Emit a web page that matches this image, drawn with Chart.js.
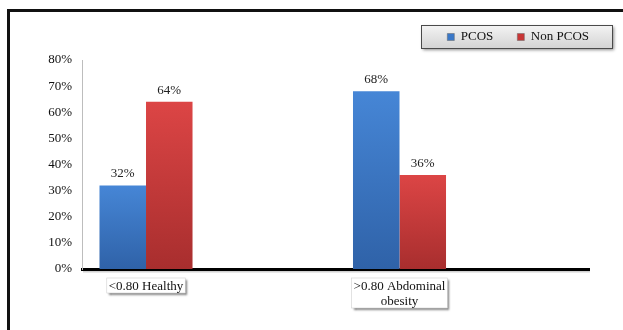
<!DOCTYPE html>
<html><head><meta charset="utf-8">
<script src="https://cdn.jsdelivr.net/npm/chart.js@4/dist/chart.umd.min.js"></script>
<style>html,body{margin:0;padding:0;background:#fff}#wrap{width:623px;height:330px;position:relative}</style>
</head><body><div id="wrap"><canvas id="c" width="623" height="330"></canvas></div>
<script>
const categories = ['<0.80 Healthy', '>0.80 Abdominal obesity'];
const tickLabels = [['<0.80 Healthy'], ['>0.80 Abdominal', 'obesity']];
const seriesNames = ['PCOS', 'Non PCOS'];
const pcosValues = [32, 68];
const nonPcosValues = [64, 36];
const yMax = 80;
const yStep = 10;

const FONT = "'Liberation Serif', 'Times New Roman', serif";

function barGradient(top, bottom) {
  return (c) => {
    const chart = c.chart;
    if (!chart.chartArea || c.type !== 'data' || !c.parsed) return bottom;
    const y = chart.scales.y.getPixelForValue(c.parsed.y);
    const base = chart.scales.y.getPixelForValue(0);
    const g = chart.ctx.createLinearGradient(0, y, 0, base);
    g.addColorStop(0, top);
    g.addColorStop(1, bottom);
    return g;
  };
}
const legendColors = ['#3a78c8', '#c83636'];

const framePlugin = {
  id: 'frame',
  beforeDraw(chart) {
    const ctx = chart.ctx;
    ctx.save();
    ctx.fillStyle = '#fff';
    ctx.fillRect(0, 0, chart.width, chart.height);
    ctx.strokeStyle = '#111';
    ctx.lineWidth = 3;
    ctx.strokeRect(8.5, 10.5, 800, 500);
    // legend box
    const lg = chart.legend;
    if (lg && lg.legendHitBoxes && lg.legendHitBoxes.length) {
      const hb = lg.legendHitBoxes;
      const first = hb[0], last = hb[hb.length - 1];
      const cy = first.top + first.height / 2;
      const x0 = first.left - 26, x1 = last.left + last.width + 23;
      const y0 = cy - 12, y1 = cy + 11;
      ctx.save();
      ctx.shadowColor = 'rgba(0,0,0,0.45)';
      ctx.shadowOffsetX = 2; ctx.shadowOffsetY = 2; ctx.shadowBlur = 3;
      const g = ctx.createLinearGradient(0, y0, 0, y1);
      g.addColorStop(0, '#f4f4f4');
      g.addColorStop(1, '#d4d4d4');
      ctx.fillStyle = g;
      ctx.fillRect(x0, y0, x1 - x0, y1 - y0);
      ctx.restore();
      ctx.strokeStyle = '#4a4a4a';
      ctx.lineWidth = 1;
      ctx.strokeRect(Math.round(x0) + 0.5, Math.round(y0) + 0.5, Math.round(x1 - x0), Math.round(y1 - y0));
    }
    // x tick label boxes
    const xs = chart.scales.x;
    const lh = 15;
    ctx.font = '13px ' + FONT;
    tickLabels.forEach((lines, i) => {
      const px = xs.getPixelForValue(i);
      const w = Math.max(...lines.map(l => ctx.measureText(l).width)) + 4;
      const top = xs.top + 9;
      const h = lines.length * lh;
      ctx.save();
      ctx.shadowColor = 'rgba(0,0,0,0.5)';
      ctx.shadowOffsetX = 2; ctx.shadowOffsetY = 2; ctx.shadowBlur = 2;
      ctx.fillStyle = '#fff';
      ctx.fillRect(px - w / 2, top, w, h);
      ctx.restore();
      ctx.strokeStyle = '#d0d0d0';
      ctx.lineWidth = 0.6;
      ctx.strokeRect(px - w / 2, top, w, h);
    });
    ctx.restore();
  },
  afterDraw(chart) {
    const ctx = chart.ctx;
    const a = chart.chartArea;
    ctx.save();
    ctx.strokeStyle = 'rgba(0,0,0,0.18)';
    ctx.lineWidth = 1.5;
    ctx.beginPath();
    ctx.moveTo(a.left + 1, a.bottom + 2.8);
    ctx.lineTo(a.right + 1, a.bottom + 2.8);
    ctx.stroke();
    ctx.restore();
  }
};

const valueLabels = {
  id: 'valueLabels',
  afterDatasetsDraw(chart) {
    const ctx = chart.ctx;
    ctx.save();
    ctx.font = '13px ' + FONT;
    ctx.fillStyle = '#222';
    ctx.textAlign = 'center';
    ctx.textBaseline = 'alphabetic';
    chart.data.datasets.forEach((ds, di) => {
      const meta = chart.getDatasetMeta(di);
      meta.data.forEach((el, i) => {
        ctx.fillText(ds.data[i].y + '%', el.x, el.y - 8);
      });
    });
    ctx.restore();
  }
};

new Chart(document.getElementById('c'), {
  type: 'bar',
  data: {
    datasets: [
      { label: seriesNames[0], data: pcosValues.map((v, i) => ({ x: i, y: v })),
        backgroundColor: barGradient('#4686d6', '#2f62a8'), xAxisID: 'x', yAxisID: 'y' },
      { label: seriesNames[1], data: nonPcosValues.map((v, i) => ({ x: i, y: v })),
        backgroundColor: barGradient('#dc4545', '#a82e2e'), xAxisID: 'x', yAxisID: 'y' }
    ]
  },
  options: {
    responsive: false,
    animation: false,
    devicePixelRatio: 1,
    categoryPercentage: 0.367,
    barPercentage: 1,
    layout: { padding: { top: 6.5, right: 10, left: 0, bottom: 0 } },
    plugins: {
      tooltip: { enabled: false },
      legend: {
        position: 'top',
        align: 'end',
        labels: {
          boxWidth: 7, boxHeight: 7, padding: 24,
          color: '#111',
          font: { family: FONT, size: 13 },
          generateLabels: (chart) => chart.data.datasets.map((ds, i) => ({
            text: ds.label, fillStyle: legendColors[i], strokeStyle: '#666', lineWidth: 0.5,
            hidden: false, datasetIndex: i, fontColor: '#111'
          }))
        }
      }
    },
    scales: {
      x: {
        type: 'linear', axis: 'x', position: 'bottom',
        min: -0.2525, max: 1.7475, offset: false,
        grid: { display: false, drawTicks: false, offset: false },
        border: { display: true, color: '#000', width: 3 },
        afterBuildTicks: (s) => { s.ticks = categories.map((_, i) => ({ value: i })); },
        afterFit: (s) => { s.height = 61; },
        ticks: {
          autoSkip: false, maxRotation: 0, minRotation: 0, padding: 10,
          color: '#111',
          font: { family: FONT, size: 13, lineHeight: 1.15 },
          callback: (v, i) => tickLabels[i]
        }
      },
      xT: {
        type: 'linear', axis: 'x', position: 'top', display: true,
        grid: { display: false, drawTicks: false }, border: { display: false },
        ticks: { display: false },
        afterFit: (s) => { s.height = 6.5; }
      },
      y: {
        type: 'linear', axis: 'y', position: 'left',
        min: 0, max: yMax,
        grid: { display: false, drawTicks: false },
        border: { display: true, color: '#bdbdbd', width: 1 },
        afterFit: (s) => { s.width = 82; },
        ticks: {
          stepSize: yStep, padding: 10, color: '#111',
          font: { family: FONT, size: 13 },
          callback: (v) => v + '%'
        }
      },
      yR: {
        type: 'linear', axis: 'y', position: 'right', display: true,
        grid: { display: false, drawTicks: false }, border: { display: false },
        ticks: { display: false },
        afterFit: (s) => { s.width = 24; }
      }
    }
  },
  plugins: [framePlugin, valueLabels]
});
</script>
</body></html>
